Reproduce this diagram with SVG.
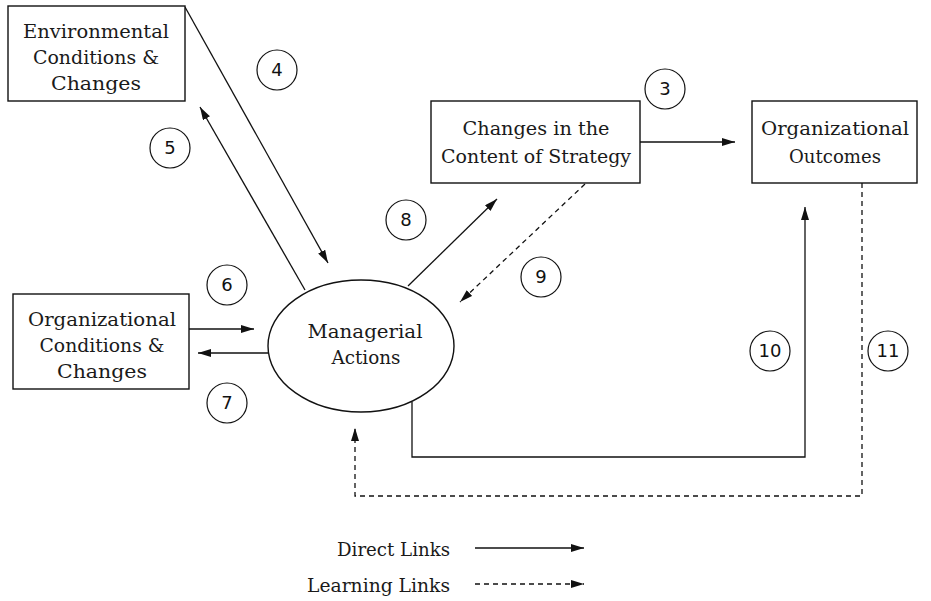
<svg xmlns="http://www.w3.org/2000/svg" width="931" height="601" viewBox="0 0 931 601">
<style>
  .box { fill: #fff; stroke: #111; stroke-width: 1.4; }
  .lbl { font-family: "DejaVu Serif", "Liberation Serif", serif; font-size: 19px; fill: #1a1a1a; text-anchor: middle; }
  .end { text-anchor: end; }
  .num { font-family: "DejaVu Sans", "Liberation Sans", sans-serif; font-size: 18px; fill: #111; text-anchor: middle; }
  .tag { fill: #fff; stroke: #111; stroke-width: 1.2; }
  .link { fill: none; stroke: #111; stroke-width: 1.3; marker-end: url(#ah); }
  .learn { fill: none; stroke: #111; stroke-width: 1.3; stroke-dasharray: 5 4; marker-end: url(#ah); }
</style>
<defs>
  <marker id="ah" markerUnits="userSpaceOnUse" markerWidth="14" markerHeight="9" refX="13" refY="4" orient="auto">
    <path d="M0,0 L13,4 L0,8 z" fill="#111"/>
  </marker>
</defs>
<rect width="931" height="601" fill="#fff"/>

<g id="connectors">
  <line class="link" x1="185" y1="7" x2="328" y2="263"/>
  <line class="link" x1="305" y1="290" x2="200" y2="107"/>
  <line class="link" x1="408" y1="286" x2="497" y2="199"/>
  <line class="learn" x1="585" y1="184" x2="460" y2="302"/>
  <line class="link" x1="640" y1="142" x2="735" y2="142"/>
  <line class="link" x1="189" y1="329" x2="254" y2="329"/>
  <line class="link" x1="268" y1="353" x2="198" y2="353"/>
  <polyline class="link" points="412,402 412,457 805,457 805,207"/>
  <polyline class="learn" points="862,183 862,496 355,496 355,428"/>
</g>

<g id="env">
  <rect class="box" x="8" y="6" width="177" height="95"/>
  <text class="lbl" x="96" y="38" textLength="146" lengthAdjust="spacingAndGlyphs">Environmental</text>
  <text class="lbl" x="96" y="64" textLength="126" lengthAdjust="spacingAndGlyphs">Conditions &amp;</text>
  <text class="lbl" x="96" y="90" textLength="90" lengthAdjust="spacingAndGlyphs">Changes</text>
</g>

<g id="org">
  <rect class="box" x="13" y="294" width="176" height="95"/>
  <text class="lbl" x="102" y="326" textLength="148" lengthAdjust="spacingAndGlyphs">Organizational</text>
  <text class="lbl" x="102" y="352" textLength="125" lengthAdjust="spacingAndGlyphs">Conditions &amp;</text>
  <text class="lbl" x="102" y="378" textLength="90" lengthAdjust="spacingAndGlyphs">Changes</text>
</g>

<g id="strategy">
  <rect class="box" x="431" y="101" width="209" height="82"/>
  <text class="lbl" x="536" y="135" textLength="147" lengthAdjust="spacingAndGlyphs">Changes in the</text>
  <text class="lbl" x="536" y="163" textLength="190" lengthAdjust="spacingAndGlyphs">Content of Strategy</text>
</g>

<g id="outcomes">
  <rect class="box" x="752" y="101" width="165" height="82"/>
  <text class="lbl" x="835" y="135" textLength="148" lengthAdjust="spacingAndGlyphs">Organizational</text>
  <text class="lbl" x="835" y="163" textLength="92" lengthAdjust="spacingAndGlyphs">Outcomes</text>
</g>

<g id="managerial">
  <ellipse class="box" cx="361" cy="346" rx="93" ry="66"/>
  <text class="lbl" x="365" y="338" textLength="115" lengthAdjust="spacingAndGlyphs">Managerial</text>
  <text class="lbl" x="366" y="364" textLength="69" lengthAdjust="spacingAndGlyphs">Actions</text>
</g>

<g id="tag3"><circle class="tag" cx="665" cy="89" r="20"/><text class="num" x="665" y="95">3</text></g>
<g id="tag4"><circle class="tag" cx="277" cy="70" r="20"/><text class="num" x="277" y="76">4</text></g>
<g id="tag5"><circle class="tag" cx="170" cy="148" r="20"/><text class="num" x="170" y="154">5</text></g>
<g id="tag6"><circle class="tag" cx="227" cy="285" r="20"/><text class="num" x="227" y="291">6</text></g>
<g id="tag7"><circle class="tag" cx="227" cy="403" r="20"/><text class="num" x="227" y="409">7</text></g>
<g id="tag8"><circle class="tag" cx="406" cy="220" r="20"/><text class="num" x="406" y="226">8</text></g>
<g id="tag9"><circle class="tag" cx="541" cy="277" r="20"/><text class="num" x="541" y="283">9</text></g>
<g id="tag10"><circle class="tag" cx="770" cy="351" r="20"/><text class="num" x="770" y="357">10</text></g>
<g id="tag11"><circle class="tag" cx="888" cy="351" r="20"/><text class="num" x="888" y="357">11</text></g>

<g id="legend">
  <text class="lbl end" x="450" y="556" textLength="113" lengthAdjust="spacingAndGlyphs">Direct Links</text>
  <text class="lbl end" x="450" y="592" textLength="143" lengthAdjust="spacingAndGlyphs">Learning Links</text>
  <line class="link" x1="475" y1="548" x2="584" y2="548"/>
  <line class="learn" x1="475" y1="584" x2="584" y2="584"/>
</g>
</svg>
